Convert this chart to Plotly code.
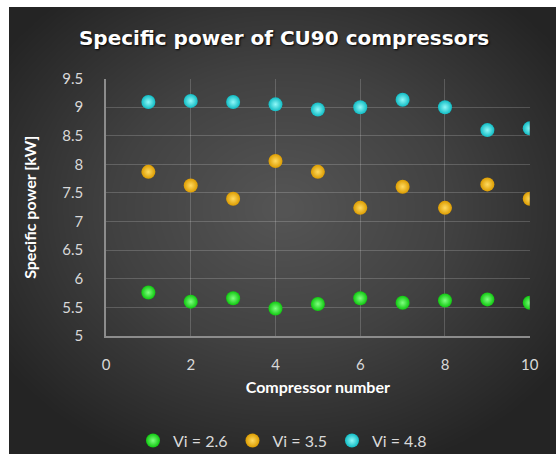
import numpy as np
import plotly.graph_objects as go

compressors = [1, 2, 3, 4, 5, 6, 7, 8, 9, 10]
vi_26 = [5.76, 5.60, 5.66, 5.48, 5.56, 5.66, 5.58, 5.62, 5.64, 5.58]
vi_35 = [7.87, 7.63, 7.40, 8.06, 7.87, 7.24, 7.61, 7.24, 7.65, 7.40]
vi_48 = [9.09, 9.11, 9.09, 9.05, 8.96, 9.00, 9.13, 9.00, 8.60, 8.63]
series_names = ["Vi = 2.6", "Vi = 3.5", "Vi = 4.8"]
x_ticks = [0, 2, 4, 6, 8, 10]
y_ticks = [5, 5.5, 6, 6.5, 7, 7.5, 8, 8.5, 9, 9.5]

# background radial gradient (style only)
gx = np.linspace(0, 1, 80)
gy = np.linspace(0, 1, 80)
GX, GY = np.meshgrid(gx, gy)
R = np.sqrt(((GX - 0.5) / 0.62) ** 2 + ((GY - 0.55) / 0.62) ** 2)
R = np.clip(R, 0, 1)

fig = go.Figure()
fig.add_trace(go.Heatmap(
    x=gx, y=gy, z=R, xaxis="x", yaxis="y",
    colorscale=[[0, "#555555"], [0.5, "#414141"], [1, "#242424"]],
    zmin=0, zmax=1, showscale=False, hoverinfo="skip", zsmooth="best",
    showlegend=False,
))

styles = [
    ("#0fc80f", "#80ff80"),
    ("#dc9c00", "#ffda60"),
    ("#10bcc4", "#90f8f8"),
]
for name, vals, (base, light) in zip(series_names, [vi_26, vi_35, vi_48], styles):
    fig.add_trace(go.Scatter(
        x=compressors, y=vals, mode="markers", name=name,
        xaxis="x2", yaxis="y2",
        marker=dict(size=14, color=base, line=dict(width=0),
                    gradient=dict(type="radial", color=light)),
    ))

tickfont = dict(family="Lato, Open Sans, sans-serif", size=15, color="#d9d9d9")
fig.update_layout(
    width=557, height=455,
    margin=dict(l=9, r=1, t=7, b=1, autoexpand=False),
    paper_bgcolor="white",
    plot_bgcolor="rgba(0,0,0,0)",
    title=dict(
        text="<b>Specific power of CU90 compressors</b>",
        x=0.51, xref="container", xanchor="center",
        y=1 - 38 / 455, yref="container", yanchor="middle",
        font=dict(family="DejaVu Sans, sans-serif", size=20, color="white",
                  shadow="1px 1px 2px black"),
    ),
    xaxis=dict(domain=[0, 1], range=[0, 1], visible=False, fixedrange=True),
    yaxis=dict(domain=[0, 1], range=[0, 1], visible=False, fixedrange=True),
    xaxis2=dict(
        domain=[0.1773, 0.952], range=[0, 10], tickvals=x_ticks,
        anchor="y2",
        showgrid=True, gridcolor="rgba(255,255,255,0.18)", gridwidth=1,
        showline=True, linecolor="#8c8c8c", linewidth=1.5,
        zeroline=False, ticks="", tickfont=tickfont, ticklabelstandoff=14,
        title=dict(text="<b>Compressor number</b>", standoff=10,
                   font=dict(family="Lato, Open Sans, sans-serif", size=16, color="white")),
    ),
    yaxis2=dict(
        domain=[0.264, 0.8398], range=[5, 9.5], tickvals=y_ticks,
        ticktext=[f"{v:g}" for v in y_ticks], anchor="x2",
        showgrid=True, gridcolor="rgba(255,255,255,0.18)", gridwidth=1,
        showline=True, linecolor="#8c8c8c", linewidth=1.5,
        zeroline=False, ticks="", tickfont=tickfont, ticklabelstandoff=18,
        title=dict(text="<b>Specific power [kW]</b>", standoff=22,
                   font=dict(family="Lato, Open Sans, sans-serif", size=16, color="white")),
    ),
    legend=dict(
        orientation="h", x=0.5, xanchor="center", y=0.03, yanchor="middle",
        font=dict(family="Lato, Open Sans, sans-serif", size=16, color="#d9d9d9"),
        bgcolor="rgba(0,0,0,0)", itemwidth=30,
    ),
    showlegend=True,
)

fig.write_html("out.html")
